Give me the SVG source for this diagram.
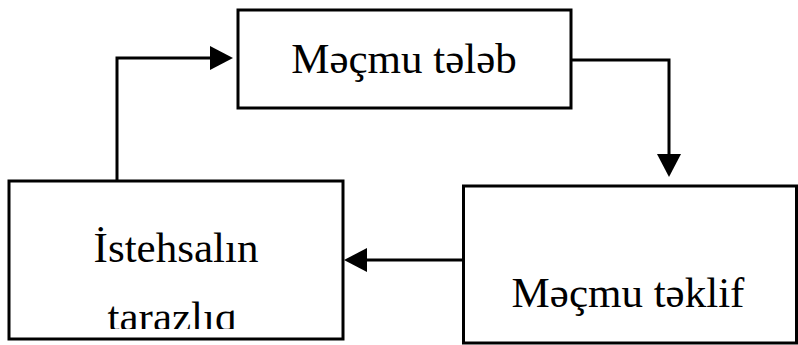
<svg xmlns="http://www.w3.org/2000/svg" width="798" height="345" viewBox="0 0 798 345">
<style>
.box{fill:#fff;stroke:#000;stroke-width:3}
.lbl{font-family:"Liberation Serif","Times New Roman",serif;font-size:43px;fill:#000;text-anchor:middle}
.conn{fill:none;stroke:#000;stroke-width:3}
</style>
<defs>
<marker id="ah" viewBox="0 0 23 24" markerWidth="23" markerHeight="24" refX="0" refY="12" orient="auto" markerUnits="userSpaceOnUse">
<path d="M0,0 L23,12 L0,24 Z" fill="#000"/>
</marker>
<clipPath id="clipL"><rect x="9" y="181" width="334" height="148"/></clipPath>
</defs>
<rect width="798" height="345" fill="#fff"/>
<g id="connectors">
<path class="conn" d="M117,181 V58 H210" marker-end="url(#ah)"/>
<path class="conn" d="M571,60 H669 V154" marker-end="url(#ah)"/>
<path class="conn" d="M463,260 H367" marker-end="url(#ah)"/>
</g>
<g id="node-mecmu-teleb">
<rect class="box" x="238" y="10" width="333" height="98"/>
<text class="lbl" x="404" y="73">Məçmu tələb</text>
</g>
<g id="node-istehsal">
<rect class="box" x="9" y="181" width="334" height="158"/>
<text class="lbl" x="176" y="262">İstehsalın</text>
<text class="lbl" x="172" y="331" clip-path="url(#clipL)">tarazlıq</text>
</g>
<g id="node-mecmu-teklif">
<rect class="box" x="463.5" y="186" width="333" height="157"/>
<text class="lbl" x="628" y="307">Məçmu təklif</text>
</g>
</svg>
